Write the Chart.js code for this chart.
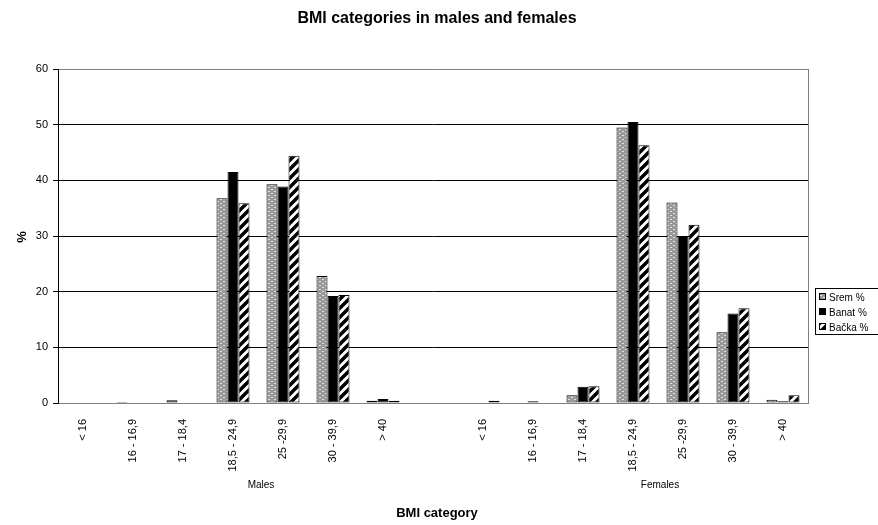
<!DOCTYPE html>
<html>
<head>
<meta charset="utf-8">
<script src="https://cdn.jsdelivr.net/npm/chart.js@4.4.1/dist/chart.umd.min.js"></script>
<style>
  html, body { margin: 0; padding: 0; background: #fff; }
  #wrap { width: 878px; height: 525px; }
</style>
</head>
<body>
<div id="wrap"><canvas id="bmiChart"></canvas></div>
<script>
// BMI category labels, males then females (empty slot in between)
const categories = [
  "< 16", "16 - 16,9", "17 - 18,4", "18,5 - 24,9", "25 -29,9", "30 - 39,9", "> 40",
  "",
  "< 16", "16 - 16,9", "17 - 18,4", "18,5 - 24,9", "25 -29,9", "30 - 39,9", "> 40"
];
const groupLabels = ["Males", "Females"];
const seriesNames = ["Srem %", "Banat %", "Bačka %"];

const sremValues = [0, 0.2, 0.5, 36.8, 39.3, 22.8, 0.4, null, 0, 0, 1.4, 49.5, 36.0, 12.7, 0.6];
const banatValues = [0, 0, 0, 41.5, 38.9, 19.2, 0.7, null, 0, 0.3, 2.9, 50.5, 30.0, 16.1, 0.3];
const backaValues = [0, 0, 0, 35.9, 44.4, 19.4, 0.4, null, 0.4, 0, 3.0, 46.3, 32.0, 17.0, 1.4];

const yTicks = [0, 10, 20, 30, 40, 50, 60];

const FONT = "'Liberation Sans', Arial, sans-serif";

function makeDottedPattern() {
  const c = document.createElement("canvas");
  c.width = 6;
  c.height = 4;
  const g = c.getContext("2d");
  g.fillStyle = "#999";
  g.fillRect(0, 0, 6, 4);
  g.fillStyle = "#e0e0e0";
  g.fillRect(1, 1, 2, 1);
  g.fillRect(4, 3, 2, 1);
  return g.createPattern(c, "repeat");
}

function makeStripePattern() {
  const c = document.createElement("canvas");
  c.width = 9;
  c.height = 9;
  const g = c.getContext("2d");
  g.fillStyle = "#fff";
  g.fillRect(0, 0, 9, 9);
  g.strokeStyle = "#000";
  g.lineWidth = 3.5;
  g.beginPath();
  g.moveTo(-2, 11);
  g.lineTo(11, -2);
  g.moveTo(-7, 7);
  g.lineTo(7, -7);
  g.moveTo(2, 16);
  g.lineTo(16, 2);
  g.stroke();
  return g.createPattern(c, "repeat");
}

const fills = [makeDottedPattern(), "#000", makeStripePattern()];

const decorations = {
  id: "decorations",
  afterDatasetsDraw(chart) {
    const ctx = chart.ctx;
    const area = chart.chartArea;
    ctx.save();
    // right edge of the plot area
    ctx.strokeStyle = "#808080";
    ctx.lineWidth = 1;
    ctx.beginPath();
    ctx.moveTo(Math.round(area.right) + 0.5, area.top);
    ctx.lineTo(Math.round(area.right) + 0.5, area.bottom);
    ctx.stroke();
    ctx.restore();
  },
  afterDraw(chart) {
    const ctx = chart.ctx;
    const x = chart.scales.x;
    ctx.save();
    ctx.fillStyle = "#000";
    ctx.textAlign = "center";
    ctx.textBaseline = "middle";

    ctx.font = "bold 16px " + FONT;
    ctx.fillText("BMI categories in males and females", 437, 19);

    ctx.font = "bold 13px " + FONT;
    ctx.fillText("BMI category", 437, 513);

    ctx.save();
    ctx.translate(22, 237);
    ctx.rotate(-Math.PI / 2);
    ctx.fillText("%", 0, 0);
    ctx.restore();

    // group labels under the category labels
    ctx.font = "10px " + FONT;
    const malesX = (x.getPixelForTick(3) + x.getPixelForTick(4)) / 2;
    const femalesX = (x.getPixelForTick(11) + x.getPixelForTick(12)) / 2;
    ctx.fillText(groupLabels[0], malesX + 3, 485);
    ctx.fillText(groupLabels[1], femalesX + 2, 485);

    // legend box
    ctx.strokeStyle = "#000";
    ctx.lineWidth = 1;
    ctx.strokeRect(815.5, 288.5, 70, 46);
    ctx.textAlign = "left";
    seriesNames.forEach((name, i) => {
      const yy = 297 + i * 15;
      ctx.fillStyle = fills[i];
      ctx.fillRect(819, yy - 4, 7, 7);
      ctx.strokeRect(819.5, yy - 3.5, 6, 6);
      ctx.fillStyle = "#000";
      ctx.fillText(name, 829, yy + 1);
    });
    ctx.restore();
  },
};

new Chart(document.getElementById("bmiChart"), {
  type: "bar",
  data: {
    labels: categories,
    datasets: [sremValues, banatValues, backaValues].map((values, i) => ({
      label: seriesNames[i],
      data: values,
      backgroundColor: fills[i],
      borderColor: "#000",
      borderWidth: 1,
      borderSkipped: false,
      barPercentage: 1,
      categoryPercentage: 0.66,
    })),
  },
  options: {
    responsive: true,
    maintainAspectRatio: false,
    animation: false,
    layout: { padding: { left: 0, right: 70, top: 69, bottom: 0 } },
    plugins: {
      legend: { display: false },
      title: { display: false },
      tooltip: { enabled: false },
    },
    scales: {
      x: {
        grid: { display: false },
        border: { color: "#808080", width: 1 },
        ticks: {
          autoSkip: false,
          minRotation: 90,
          maxRotation: 90,
          padding: 8,
          color: "#000",
          font: { family: FONT, size: 11 },
        },
        afterFit(scale) {
          scale.height = 122;
        },
      },
      y: {
        min: 0,
        max: 60,
        afterBuildTicks(scale) {
          scale.ticks = yTicks.map((v) => ({ value: v }));
        },
        grid: {
          color: (c) => (c.tick && (c.tick.value === 60 || c.tick.value === 0) ? "#808080" : "#000"),
          tickColor: "#000",
          tickLength: 5,
        },
        border: { color: "#000", width: 1 },
        ticks: {
          padding: 5,
          color: "#000",
          font: { family: FONT, size: 11 },
        },
        afterFit(scale) {
          scale.width = 58;
        },
      },
    },
  },
  plugins: [decorations],
});
</script>
</body>
</html>
